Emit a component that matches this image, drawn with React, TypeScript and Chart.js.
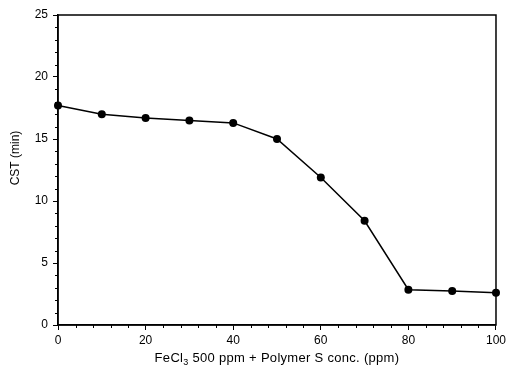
import React, { useEffect, useRef } from "react";
import { Chart, registerables } from "chart.js";

Chart.register(...registerables);

// ---- data ----
const concentrations = [0, 10, 20, 30, 40, 50, 60, 70, 80, 90, 100];
const cstMinutes = [17.7, 17.0, 16.7, 16.5, 16.3, 15.0, 11.9, 8.4, 2.85, 2.75, 2.6];
const xTickValues = [0, 20, 40, 60, 80, 100];
const yTickValues = [0, 5, 10, 15, 20, 25];
const xTitleParts = ["FeCl", "3", " 500 ppm + Polymer S conc. (ppm)"];
const yTitle = "CST (min)";
const xMinorStep = 4;
const yMinorStep = 1;

const FONT = '"Liberation Sans", Arial, Helvetica, sans-serif';

const decorPlugin = {
  id: "decor",
  afterDraw(chart: any) {
    const { ctx, chartArea: a, scales } = chart;
    const xs = scales.x;
    const ys = scales.y;
    ctx.save();
    ctx.strokeStyle = "#000";
    ctx.lineWidth = 1.5;
    ctx.strokeRect(a.left, a.top, a.right - a.left, a.bottom - a.top);

    // minor ticks
    ctx.lineWidth = 1;
    ctx.beginPath();
    const yMax = yTickValues[yTickValues.length - 1];
    const xMax = xTickValues[xTickValues.length - 1];
    for (let v = 0; v <= yMax; v += yMinorStep) {
      if (yTickValues.includes(v)) continue;
      const py = Math.round(ys.getPixelForValue(v)) + 0.5;
      ctx.moveTo(a.left - 3, py);
      ctx.lineTo(a.left, py);
    }
    for (let v = 0; v <= xMax; v += xMinorStep) {
      if (xTickValues.includes(v)) continue;
      const px = Math.round(xs.getPixelForValue(v)) + 0.5;
      ctx.moveTo(px, a.bottom);
      ctx.lineTo(px, a.bottom + 3);
    }
    ctx.stroke();

    // x-axis title with subscript
    ctx.fillStyle = "#000";
    ctx.textBaseline = "alphabetic";
    ctx.textAlign = "left";
    try {
      (ctx as any).letterSpacing = "0.3px";
    } catch (e) {}
    const mainFont = `13px ${FONT}`;
    const subFont = `9px ${FONT}`;
    ctx.font = mainFont;
    const w0 = ctx.measureText(xTitleParts[0]).width;
    const w2 = ctx.measureText(xTitleParts[2]).width;
    ctx.font = subFont;
    const w1 = ctx.measureText(xTitleParts[1]).width;
    const total = w0 + w1 + w2;
    let cx = (a.left + a.right) / 2 - total / 2;
    const base = a.bottom + 37;
    ctx.font = mainFont;
    ctx.fillText(xTitleParts[0], cx, base);
    cx += w0;
    ctx.font = subFont;
    ctx.fillText(xTitleParts[1], cx, base + 3);
    cx += w1;
    ctx.font = mainFont;
    ctx.fillText(xTitleParts[2], cx, base);

    // y-axis title (rotated)
    try {
      (ctx as any).letterSpacing = "0px";
    } catch (e) {}
    ctx.font = `12px ${FONT}`;
    ctx.textAlign = "center";
    ctx.textBaseline = "middle";
    ctx.translate(16, (a.top + a.bottom) / 2 - 12);
    ctx.rotate(-Math.PI / 2);
    ctx.fillText(yTitle, 0, 0);
    ctx.restore();
  },
};

export default function App() {
  const canvasRef = useRef<HTMLCanvasElement | null>(null);

  useEffect(() => {
    const canvas = canvasRef.current;
    if (!canvas) return;
    const chart = new Chart(canvas, {
      type: "line",
      data: {
        datasets: [
          {
            data: concentrations.map((c, i) => ({ x: c, y: cstMinutes[i] })),
            borderColor: "#000",
            backgroundColor: "#000",
            borderWidth: 1.5,
            pointRadius: 4,
            pointBackgroundColor: "#000",
            pointBorderColor: "#000",
            pointBorderWidth: 0,
            tension: 0,
            clip: false as any,
          },
        ],
      },
      options: {
        animation: false,
        responsive: false,
        layout: { padding: { top: 15, right: 11, left: 0, bottom: 0 } },
        plugins: {
          legend: { display: false },
          tooltip: { enabled: false },
        },
        scales: {
          x: {
            type: "linear",
            min: 0,
            max: 100,
            afterBuildTicks: (scale: any) => {
              scale.ticks = xTickValues.map((v) => ({ value: v }));
            },
            afterFit: (scale: any) => {
              scale.height = 52;
            },
            ticks: {
              color: "#000",
              font: { family: FONT, size: 12 },
              padding: 3,
              maxRotation: 0,
            },
            grid: {
              drawOnChartArea: false,
              drawTicks: true,
              tickLength: 5,
              color: "#000",
              lineWidth: 1,
            },
            border: { display: true, color: "#000", width: 1.5 },
            title: { display: false },
          },
          y: {
            type: "linear",
            min: 0,
            max: 25,
            afterBuildTicks: (scale: any) => {
              scale.ticks = yTickValues.map((v) => ({ value: v }));
            },
            afterFit: (scale: any) => {
              scale.width = 58;
            },
            ticks: {
              color: "#000",
              font: { family: FONT, size: 12 },
              padding: 5,
            },
            grid: {
              drawOnChartArea: false,
              drawTicks: true,
              tickLength: 5,
              color: "#000",
              lineWidth: 1,
            },
            border: { display: true, color: "#000", width: 1.5 },
            title: { display: false },
          },
        },
      },
      plugins: [decorPlugin],
    });
    return () => chart.destroy();
  }, []);

  return (
    <div style={{ position: "fixed", left: 0, top: 0, width: 509, height: 377, background: "#fff" }}>
      <canvas ref={canvasRef} width={509} height={377} />
    </div>
  );
}
